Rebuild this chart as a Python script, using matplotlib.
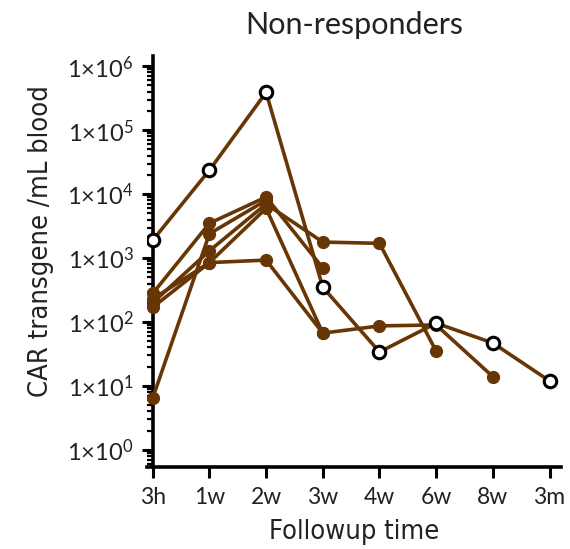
import numpy as np
import matplotlib
matplotlib.use('Agg')
from matplotlib import pyplot as plt
from matplotlib.ticker import LogLocator, FixedLocator, NullFormatter

plt.rcParams['font.family'] = ['Lato', 'DejaVu Sans']
plt.rcParams['mathtext.fontset'] = 'custom'
plt.rcParams['mathtext.rm'] = 'Lato'
plt.rcParams['mathtext.it'] = 'Lato'

times = ['3h', '1w', '2w', '3w', '4w', '6w', '8w', '3m']

# filled-marker patients (values per followup time, shorter series end early)
filled = [
    [280, 3500, 9000, 700],
    [200, 1300, 7000, 1780, 1700, 35],
    [170, 850, 6000, 67, 87, 90, 14],
    [230, 850, 930, 67],
    [6.5, 2400, 8000],
]
# open-marker patient
hollow = [1900, 23700, 390000, 350, 34, 96, 47, 12]

BROWN = '#683605'

fig = plt.figure(figsize=(5.7, 5.49), dpi=100)
ax = fig.add_axes([0.258, 0.149, 0.726, 0.749])

x_all = np.arange(len(times))
ax.plot(x_all[:len(hollow)], hollow, '-', color=BROWN, lw=2.6, zorder=2)
ax.plot(x_all[:len(hollow)], hollow, 'o', ms=9, mfc='white', mec='black', mew=2.2, zorder=4)

for vals in filled:
    x = x_all[:len(vals)]
    ax.plot(x, vals, '-o', color=BROWN, lw=2.6, ms=8.5, mfc=BROWN, mec=BROWN, zorder=3)

ax.set_yscale('log')
ax.set_ylim(10 ** -0.27, 10 ** 6.16)
ax.set_xlim(-0.1, 7.2)

ax.yaxis.set_major_locator(FixedLocator([10.0 ** k for k in range(7)]))
ax.set_yticklabels([rf'$1{{\times}}10^{{{k}}}$' for k in range(7)])
ax.yaxis.set_minor_locator(LogLocator(base=10, subs=np.arange(2, 10), numticks=20))
ax.yaxis.set_minor_formatter(NullFormatter())

ax.set_xticks(x_all)
ax.set_xticklabels(times)

for s in ['top', 'right']:
    ax.spines[s].set_visible(False)
ax.spines['left'].set_position(('data', 0))
for s in ['left', 'bottom']:
    ax.spines[s].set_linewidth(2.6)

ax.tick_params(axis='both', which='major', length=8, width=2.2, pad=6, colors='black')
ax.tick_params(axis='y', which='major', labelsize=17, labelcolor='#222222')
ax.tick_params(axis='y', which='minor', length=4, width=1.6)
ax.tick_params(axis='x', labelsize=16.5, labelcolor='#222222')

label_font = ['DejaVu Sans', 'Lato']
ax.set_ylabel('CAR transgene /mL blood', fontsize=19.5, family=label_font,
              fontstretch='condensed', color='#222222')
ax.yaxis.set_label_coords(-0.225, 0.55)
ax.set_xlabel('Followup time', fontsize=19.5, family=label_font,
              fontstretch='condensed', labelpad=8, color='#222222')
ax.set_title('Non-responders', fontsize=22, pad=16, color='#222222')

fig.savefig('out.png', dpi=100)
